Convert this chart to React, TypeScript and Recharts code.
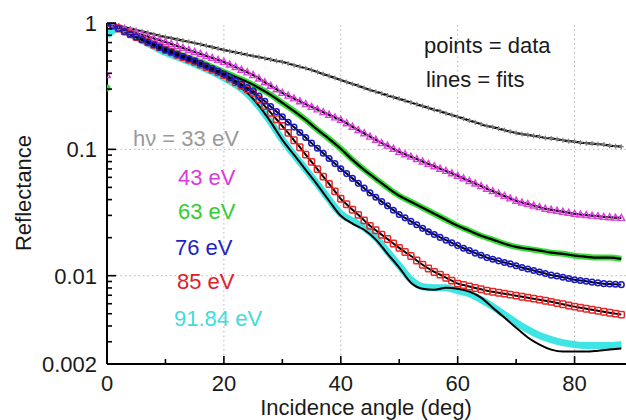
import { Line, LineChart, ReferenceLine, XAxis, YAxis } from 'recharts';

// incidence angles (deg)
const angles = Array.from({ length: 89 }, (_, i) => i);
const angles2 = Array.from({ length: 45 }, (_, i) => i * 2);

// 33 eV data (1 deg steps)
const r33 = [
  1.0, 0.975, 0.951, 0.927, 0.904, 0.881, 0.859, 0.836, 0.815, 0.794,
  0.774, 0.759, 0.741, 0.726, 0.71, 0.695, 0.678, 0.661, 0.644, 0.628,
  0.612, 0.598, 0.586, 0.573, 0.561, 0.548, 0.537, 0.525, 0.514, 0.502,
  0.492, 0.478, 0.463, 0.451, 0.438, 0.425, 0.409, 0.394, 0.381, 0.367,
  0.354, 0.341, 0.329, 0.318, 0.306, 0.295, 0.286, 0.277, 0.267, 0.259,
  0.251, 0.243, 0.235, 0.227, 0.22, 0.213, 0.206, 0.2, 0.193, 0.187,
  0.181, 0.175, 0.169, 0.164, 0.158, 0.153, 0.15, 0.146, 0.142, 0.138,
  0.135, 0.132, 0.13, 0.128, 0.126, 0.123, 0.122, 0.12, 0.118, 0.116,
  0.115, 0.113, 0.112, 0.111, 0.11, 0.109, 0.107, 0.106, 0.105,
];

// 43 eV data
const m43 = [
  0.388, 0.964, 0.929, 0.897, 0.865, 0.834, 0.807, 0.782, 0.755, 0.731,
  0.708, 0.682, 0.658, 0.635, 0.612, 0.59, 0.569, 0.548, 0.53, 0.511,
  0.492, 0.469, 0.448, 0.427, 0.407, 0.388, 0.364, 0.34, 0.319, 0.299,
  0.28, 0.266, 0.253, 0.24, 0.228, 0.217, 0.207, 0.197, 0.188, 0.179,
  0.171, 0.161, 0.151, 0.142, 0.134, 0.126, 0.119, 0.112, 0.107, 0.101,
  0.0955, 0.0914, 0.0875, 0.0838, 0.0802, 0.0767, 0.0735, 0.0703, 0.0675, 0.0646,
  0.0618, 0.0589, 0.0562, 0.0536, 0.0512, 0.0488, 0.0467, 0.0447, 0.0428, 0.0409,
  0.0392, 0.038, 0.037, 0.0359, 0.0349, 0.0339, 0.0333, 0.0327, 0.0321, 0.0315,
  0.0309, 0.0305, 0.0302, 0.0299, 0.0296, 0.0292, 0.029, 0.0288, 0.0287,
];

// 63 eV data (2 deg steps)
const g63 = [
  0.306, 0.912, 0.834, 0.748, 0.682, 0.623, 0.579, 0.529, 0.492, 0.449,
  0.41, 0.374, 0.342, 0.306, 0.27, 0.233, 0.201, 0.171, 0.143, 0.121,
  0.101, 0.0826, 0.0689, 0.0585, 0.0497, 0.0429, 0.0385, 0.0345, 0.0309, 0.0277,
  0.0248, 0.0227, 0.0207, 0.0193, 0.0179, 0.0169, 0.0163, 0.0158, 0.0152, 0.0149,
  0.0144, 0.0141, 0.0139, 0.0139, 0.0136,
];

// 76 eV data
const b76 = [
  1.0, 0.951, 0.904, 0.857, 0.815, 0.774, 0.74, 0.705, 0.673, 0.641,
  0.612, 0.589, 0.565, 0.543, 0.521, 0.501, 0.478, 0.456, 0.435, 0.415,
  0.395, 0.372, 0.349, 0.328, 0.308, 0.29, 0.264, 0.24, 0.218, 0.199,
  0.181, 0.164, 0.15, 0.136, 0.124, 0.112, 0.102, 0.0931, 0.0847, 0.0771,
  0.0702, 0.0643, 0.0589, 0.0538, 0.0493, 0.0452, 0.0418, 0.0386, 0.0357, 0.033,
  0.0305, 0.0287, 0.0269, 0.0253, 0.0237, 0.0223, 0.0212, 0.0201, 0.0191, 0.0182,
  0.0173, 0.0165, 0.0158, 0.0151, 0.0145, 0.0139, 0.0135, 0.0131, 0.0127, 0.0124,
  0.012, 0.0116, 0.0113, 0.011, 0.0107, 0.0104, 0.0101, 0.00993, 0.00971, 0.00951,
  0.00929, 0.00916, 0.00904, 0.00889, 0.00877, 0.00865, 0.00859, 0.00855, 0.00849,
];

// 85 eV data
const r85 = [
  1.0, 0.951, 0.904, 0.857, 0.815, 0.774, 0.74, 0.705, 0.673, 0.641,
  0.612, 0.586, 0.561, 0.537, 0.514, 0.492, 0.469, 0.448, 0.427, 0.407,
  0.388, 0.364, 0.34, 0.319, 0.299, 0.28, 0.248, 0.22, 0.195, 0.173,
  0.153, 0.135, 0.118, 0.104, 0.0908, 0.0796, 0.0697, 0.0608, 0.0532, 0.0465,
  0.0406, 0.0368, 0.0333, 0.0303, 0.0274, 0.0248, 0.0229, 0.0211, 0.0195, 0.018,
  0.0166, 0.0154, 0.0143, 0.0132, 0.0122, 0.0114, 0.0107, 0.0102, 0.00964, 0.00914,
  0.00865, 0.00843, 0.00822, 0.008, 0.0078, 0.0076, 0.00746, 0.00733, 0.00721, 0.00708,
  0.00695, 0.00682, 0.0067, 0.00658, 0.00646, 0.00634, 0.00621, 0.00607, 0.00594, 0.00581,
  0.00569, 0.00558, 0.00548, 0.00538, 0.00528, 0.00519, 0.00509, 0.00501, 0.00492,
];

// 91.84 eV data (2 deg steps)
const c92 = [
  0.8, 0.905, 0.815, 0.73, 0.652, 0.585, 0.538, 0.496, 0.452, 0.412,
  0.368, 0.325, 0.276, 0.218, 0.164, 0.119, 0.0905, 0.0695, 0.053, 0.04,
  0.0309, 0.0272, 0.024, 0.02, 0.0155, 0.012, 0.0093, 0.00818, 0.00803, 0.00803,
  0.00761, 0.00721, 0.00646, 0.00569, 0.00492, 0.00425, 0.00374, 0.00336, 0.00312, 0.00295,
  0.00285, 0.0028, 0.0028, 0.0028, 0.00285,
];

// 91.84 eV fit
const c92Fit = [
  1.0, 0.912, 0.819, 0.734, 0.658, 0.59, 0.543, 0.501, 0.457, 0.418,
  0.374, 0.33, 0.28, 0.221, 0.165, 0.119, 0.0905, 0.0689, 0.0524, 0.0392,
  0.0298, 0.0258, 0.0231, 0.0193, 0.0149, 0.0116, 0.00881, 0.00789, 0.00775, 0.00803,
  0.00789, 0.00748, 0.0067, 0.00558, 0.00466, 0.00388, 0.00324, 0.00285, 0.0026, 0.00251,
  0.00251, 0.00251, 0.00255, 0.0026, 0.00265,
];

const xTicks = [0, 10, 20, 30, 40, 50, 60, 70, 80];
const xLabels = [0, 20, 40, 60, 80];
const yTicks = [
  0.002, 0.003, 0.004, 0.005, 0.006, 0.007, 0.008, 0.009,
  0.01, 0.02, 0.03, 0.04, 0.05, 0.06, 0.07, 0.08, 0.09,
  0.1, 0.2, 0.3, 0.4, 0.5, 0.6, 0.7, 0.8, 0.9, 1,
];
const yLabels = [0.002, 0.01, 0.1, 1];

const pts = (xs: number[], ys: number[]) => xs.map((x, i) => ({ x, y: ys[i] }));

const FONT = '"Liberation Sans", Arial, sans-serif';

const BottomTick = (props: any) => {
  const { x, y, payload } = props;
  const major = xLabels.includes(payload.value);
  return (
    <g>
      <line x1={x} x2={x} y1={y} y2={y - (major ? 8 : 5)} stroke="#000" strokeWidth={1.6} />
      {major && (
        <text x={x} y={y + 27} textAnchor="middle" fontSize={22} fontFamily={FONT} fill="#1a1a1a">
          {payload.value}
        </text>
      )}
    </g>
  );
};

const TopTick = (props: any) => {
  const { x, y, payload } = props;
  const major = xLabels.includes(payload.value);
  return <line x1={x} x2={x} y1={y} y2={y + (major ? 8 : 5)} stroke="#000" strokeWidth={1.6} />;
};

const LeftTick = (props: any) => {
  const { x, y, payload } = props;
  const major = yLabels.includes(payload.value);
  return (
    <g>
      <line x1={x} x2={x + (major ? 9 : 5)} y1={y} y2={y} stroke="#000" strokeWidth={1.6} />
      {major && (
        <text x={x - 10} y={y + 8} textAnchor="end" fontSize={22} fontFamily={FONT} fill="#1a1a1a">
          {String(payload.value)}
        </text>
      )}
    </g>
  );
};

const plusDot = (p: any) => (
  <g key={`p${p.index}`}>
    <line x1={p.cx - 2.5} x2={p.cx + 2.5} y1={p.cy} y2={p.cy} stroke="#808080" strokeWidth={1.2} />
    <line x1={p.cx} x2={p.cx} y1={p.cy - 2.5} y2={p.cy + 2.5} stroke="#808080" strokeWidth={1.2} />
  </g>
);

const triDot = (p: any) => (
  <polygon
    key={`t${p.index}`}
    points={`${p.cx},${p.cy - 3.5} ${p.cx - 3.3},${p.cy + 2.5} ${p.cx + 3.3},${p.cy + 2.5}`}
    fill="none"
    stroke="#e03ce0"
    strokeWidth={1.4}
  />
);

const circleDot = (p: any) => (
  <circle key={`c${p.index}`} cx={p.cx} cy={p.cy} r={2.8} fill="none" stroke="#1818c8" strokeWidth={1.5} />
);

const squareDot = (p: any) => (
  <rect key={`s${p.index}`} x={p.cx - 3} y={p.cy - 3.2} width={6} height={6.4} rx={1} fill="none" stroke="#e82424" strokeWidth={1.5} />
);

const greenDot = (p: any) => <circle key={`g${p.index}`} cx={p.cx} cy={p.cy} r={3.5} fill="#33dd33" />;

const labels = [
  { text: 'h\u03bd = 33 eV', left: 133, top: 128, color: '#9a9a9a' },
  { text: '43 eV', left: 178, top: 167, color: '#dc3adc' },
  { text: '63 eV', left: 178, top: 201, color: '#33cc33' },
  { text: '76 eV', left: 175, top: 237, color: '#2222c4' },
  { text: '85 eV', left: 177, top: 271, color: '#e0202c' },
  { text: '91.84 eV', left: 174, top: 308, color: '#3fdcdc' },
  { text: 'points = data', left: 424, top: 35, color: '#1a1a1a' },
  { text: 'lines = fits', left: 426, top: 69, color: '#1a1a1a' },
];

export default function App() {
  const fit43 = [1, ...m43.slice(1)];
  const fit63 = [1, ...g63.slice(1)];
  return (
    <div style={{ position: 'absolute', left: 0, top: 0, width: 626, height: 420, overflow: 'hidden', background: '#fff' }}>
      <LineChart width={626} height={420} margin={{ top: 23, right: 0, left: 0, bottom: 0 }}>
        <XAxis
          dataKey="x"
          type="number"
          domain={[0, 88.8]}
          allowDataOverflow
          ticks={xTicks}
          interval={0}
          tickSize={0}
          tickMargin={0}
          tick={<BottomTick />}
          height={56}
          axisLine={{ stroke: '#000', strokeWidth: 2 }}
          tickLine={false}
        />
        <XAxis
          xAxisId="top"
          orientation="top"
          dataKey="x"
          type="number"
          domain={[0, 88.8]}
          allowDataOverflow
          ticks={xTicks}
          interval={0}
          tickSize={0}
          tickMargin={0}
          tick={<TopTick />}
          height={0}
          axisLine={{ stroke: '#000', strokeWidth: 2 }}
          tickLine={false}
        />
        <YAxis
          type="number"
          scale="log"
          domain={[0.002, 1]}
          allowDataOverflow
          ticks={yTicks}
          interval={0}
          tickSize={0}
          tickMargin={0}
          tick={<LeftTick />}
          width={107}
          axisLine={{ stroke: '#000', strokeWidth: 2 }}
          tickLine={false}
        />
        {[20, 40, 60, 80].map((v) => (
          <ReferenceLine key={`gx${v}`} x={v} stroke="#b4b4b4" strokeDasharray="1.5 3" />
        ))}
        {[0.1, 0.01].map((v) => (
          <ReferenceLine key={`gy${v}`} y={v} stroke="#b4b4b4" strokeDasharray="1.5 3" />
        ))}

        {/* data */}
        <Line data={pts(angles2, c92)} dataKey="y" type="monotone" stroke="#3fe4e4" strokeWidth={7} dot={false} activeDot={false} isAnimationActive={false} />
        <Line data={pts(angles2.slice(1), g63.slice(1))} dataKey="y" type="monotone" stroke="#33dd33" strokeWidth={6} dot={false} activeDot={false} isAnimationActive={false} />
        <Line data={pts([0], [g63[0]])} dataKey="y" stroke="none" dot={greenDot} activeDot={false} isAnimationActive={false} />
        <Line data={pts(angles, r33)} dataKey="y" stroke="none" dot={plusDot} activeDot={false} isAnimationActive={false} />
        <Line data={pts(angles, m43)} dataKey="y" stroke="none" dot={triDot} activeDot={false} isAnimationActive={false} />
        <Line data={pts(angles, r85)} dataKey="y" stroke="none" dot={squareDot} activeDot={false} isAnimationActive={false} />
        <Line data={pts(angles, b76)} dataKey="y" stroke="none" dot={circleDot} activeDot={false} isAnimationActive={false} />

        {/* fits */}
        <Line data={pts(angles, r33)} dataKey="y" type="monotone" stroke="#000" strokeWidth={2.2} dot={false} activeDot={false} isAnimationActive={false} />
        <Line data={pts(angles, fit43)} dataKey="y" type="monotone" stroke="#000" strokeWidth={2.2} dot={false} activeDot={false} isAnimationActive={false} />
        <Line data={pts(angles2, fit63)} dataKey="y" type="monotone" stroke="#000" strokeWidth={2.2} dot={false} activeDot={false} isAnimationActive={false} />
        <Line data={pts(angles, b76)} dataKey="y" type="monotone" stroke="#000" strokeWidth={2} dot={false} activeDot={false} isAnimationActive={false} />
        <Line data={pts(angles, r85)} dataKey="y" type="monotone" stroke="#000" strokeWidth={2} dot={false} activeDot={false} isAnimationActive={false} />
        <Line data={pts(angles2, c92Fit)} dataKey="y" type="monotone" stroke="#000" strokeWidth={2} dot={false} activeDot={false} isAnimationActive={false} />
      </LineChart>

      {labels.map((l) => (
        <div
          key={l.text}
          style={{ position: 'absolute', left: l.left, top: l.top, fontSize: 22, lineHeight: '22px', fontFamily: FONT, color: l.color, whiteSpace: 'nowrap' }}
        >
          {l.text}
        </div>
      ))}
      <div
        style={{ position: 'absolute', left: 24, top: 193, transform: 'translate(-50%, -50%) rotate(-90deg)', fontSize: 22, lineHeight: '22px', fontFamily: FONT, color: '#1a1a1a', whiteSpace: 'nowrap' }}
      >
        Reflectance
      </div>
      <div
        style={{ position: 'absolute', left: 366, top: 400, transform: 'translateX(-50%)', fontSize: 22, lineHeight: '16px', fontFamily: FONT, color: '#1a1a1a', whiteSpace: 'nowrap' }}
      >
        Incidence angle (deg)
      </div>
    </div>
  );
}
